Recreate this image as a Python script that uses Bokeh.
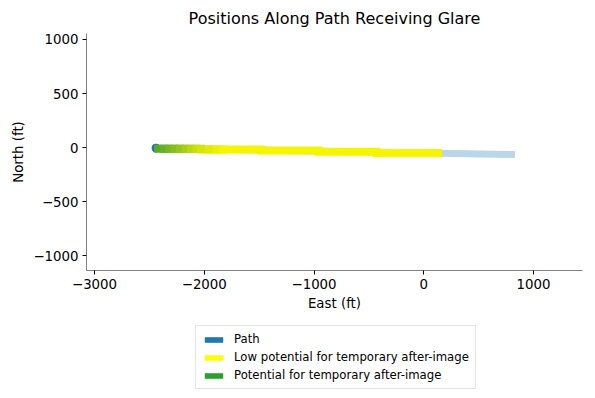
from bokeh.plotting import figure
from bokeh.layouts import column
from bokeh.models import Range1d, FixedTicker, Legend, LegendItem, ColumnDataSource
from bokeh.embed import file_html
from bokeh.resources import INLINE

# Path (east, north in ft)
path_east = [-2440, 830]
path_north = [-5, -65]

# Glare-receiving stretches along the path
glare_east0 = [-2420, -2370, -2320, -2270, -2220, -2170, -2120, -2070, -2030, -1960, -1890, -1830, -1480, -960, -430]
glare_east1 = [-2370, -2320, -2270, -2220, -2170, -2120, -2070, -2030, -1960, -1890, -1830, -1480, -960, -430, 130]
glare_north = [-10, -10, -10, -10, -10, -10, -10, -10, -18, -18, -18, -18, -28, -38, -50]
glare_level = [0.0, 0.08, 0.17, 0.27, 0.38, 0.49, 0.6, 0.7, 0.79, 0.87, 0.94, 1.0, 1.0, 1.0, 1.0]

x_ticks = [-3000, -2000, -1000, 0, 1000]
y_ticks = [-1000, -500, 0, 500, 1000]

legend_labels = ["Path", "Low potential for temporary after-image", "Potential for temporary after-image"]
legend_colors = ["#1f77b4", "#ffff00", "#2ca02c"]

FONT = "DejaVu Sans"

def mix(t):
    g = (90, 170, 40)
    y = (245, 245, 0)
    c = [int(round(g[i] + (y[i] - g[i]) * t)) for i in range(3)]
    return "#%02x%02x%02x" % tuple(c)

p = figure(width=587, height=313, output_backend="svg", toolbar_location=None,
           x_range=Range1d(-3073, 1446), y_range=Range1d(-1137, 1055),
           min_border_left=86, min_border_right=5, min_border_top=33, min_border_bottom=40)
p.title.text = "Positions Along Path Receiving Glare"
p.title.text_font = FONT
p.title.text_font_size = "12pt"
p.title.text_font_style = "normal"
p.title.text_color = "black"
p.title.align = "center"
p.title.standoff = 11
p.outline_line_color = None
p.grid.visible = False
p.background_fill_color = "white"

for ax, ticks, label in [(p.xaxis[0], x_ticks, "East (ft)"), (p.yaxis[0], y_ticks, "North (ft)")]:
    ax.ticker = FixedTicker(ticks=ticks)
    ax.major_label_overrides = {t: str(t).replace("-", "\u2212") for t in ticks}
    ax.axis_label = label
    ax.axis_label_text_font = FONT
    ax.axis_label_text_font_size = "10pt"
    ax.axis_label_text_font_style = "normal"
    ax.axis_label_text_color = "black"
    ax.major_label_text_font = FONT
    ax.major_label_text_font_size = "10pt"
    ax.major_label_text_color = "black"
    ax.axis_line_color = "#808080"
    ax.major_tick_line_color = "#000000"
    ax.major_tick_out = 4
    ax.major_tick_in = 0
    ax.minor_tick_line_color = None
    ax.major_label_standoff = 4
    ax.axis_label_standoff = 4

# path
p.line(path_east, path_north, line_color="#1f77b4", line_alpha=0.3, line_width=7)
p.scatter([path_east[0]], [path_north[0]], size=8, color="#1f77b4")

src = ColumnDataSource(dict(x0=glare_east0, x1=glare_east1, y=glare_north,
                            c=[mix(t) for t in glare_level]))
p.segment(x0="x0", y0="y", x1="x1", y1="y", source=src, line_color="c",
          line_width=8, line_cap="square")

# legend in its own strip below the axes
q = figure(width=587, height=85, output_backend="svg", toolbar_location=None,
           x_range=Range1d(0, 1), y_range=Range1d(0, 1),
           x_axis_type=None, y_axis_type=None,
           min_border_left=0, min_border_right=0, min_border_top=0, min_border_bottom=0)
q.outline_line_color = None
q.grid.visible = False

items = []
for lab, col in zip(legend_labels, legend_colors):
    r = q.quad(left=[5], right=[6], top=[6], bottom=[5], fill_color=col, line_color=None)
    items.append(LegendItem(label=lab, renderers=[r]))

legend = Legend(items=items, location=(109, 9), orientation="vertical")
legend.label_text_font = FONT
legend.label_text_font_size = "11.7px"
legend.label_text_color = "black"
legend.glyph_width = 23
legend.glyph_height = 7
legend.label_height = 12
legend.spacing = 4
legend.padding = 6
legend.margin = 0
legend.label_standoff = 9
legend.border_line_color = "#cccccc"
legend.border_line_width = 1
legend.background_fill_alpha = 1
q.add_layout(legend, "center")

layout = column(p, q, spacing=0)
open("out.html", "w").write(file_html(layout, INLINE))
